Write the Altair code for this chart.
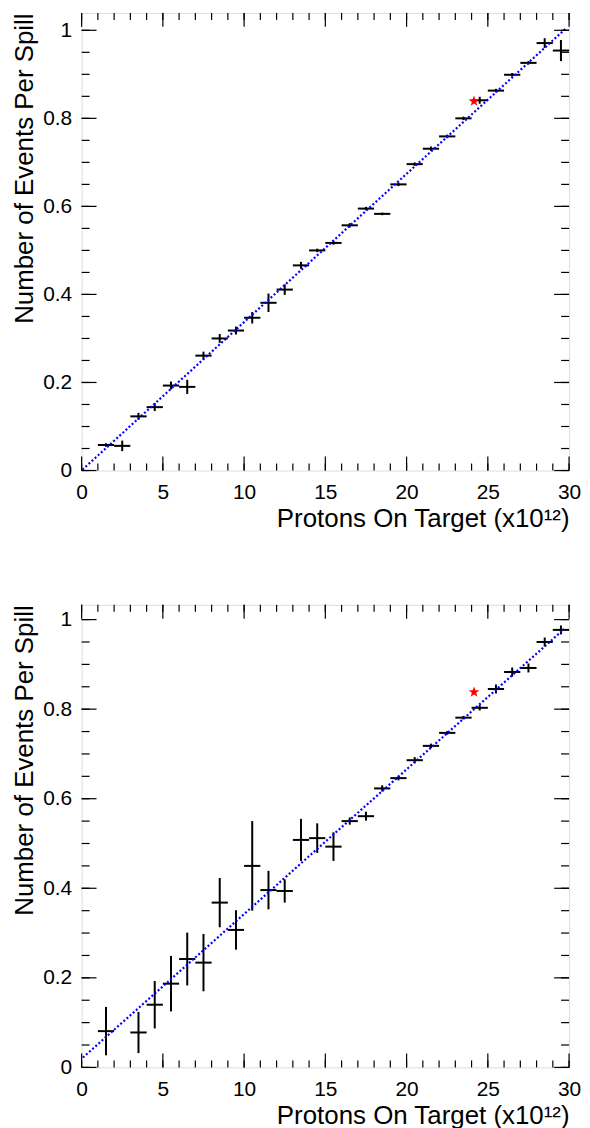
import altair as alt
import pandas as pd

FONT = "Liberation Sans"

# ---------------- data ----------------
# top panel
X_TOP = [1.5, 2.5, 3.5, 4.5, 5.5, 6.5, 7.5, 8.5, 9.5, 10.5, 11.5, 12.5, 13.5, 14.5,
         15.5, 16.5, 17.5, 18.5, 19.5, 20.5, 21.5, 22.5, 23.5, 24.5, 25.5, 26.5,
         27.5, 28.5, 29.5]
Y_TOP = [0.058, 0.056, 0.123, 0.144, 0.193, 0.190, 0.261, 0.300, 0.318, 0.347,
         0.381, 0.411, 0.466, 0.500, 0.517, 0.557, 0.595, 0.583, 0.650, 0.696,
         0.731, 0.759, 0.800, 0.841, 0.863, 0.899, 0.926, 0.971, 0.954]
E_TOP = [0.004, 0.012, 0.008, 0.009, 0.009, 0.016, 0.009, 0.010, 0.009, 0.013,
         0.021, 0.012, 0.008, 0.004, 0.004, 0.005, 0.004, 0.003, 0.004, 0.004,
         0.005, 0.004, 0.004, 0.008, 0.004, 0.004, 0.004, 0.011, 0.024]
FIT_X_TOP = [0.05, 29.8]
FIT_Y_TOP = [0.002, 1.004]
STAR_X_TOP = [24.15]
STAR_Y_TOP = [0.839]

# bottom panel
X_BOT = [1.5, 3.5, 4.5, 5.5, 6.5, 7.5, 8.5, 9.5, 10.5, 11.5, 12.5, 13.5, 14.5,
         15.5, 16.5, 17.5, 18.5, 19.5, 20.5, 21.5, 22.5, 23.5, 24.5, 25.5, 26.5,
         27.5, 28.5, 29.5]
Y_BOT = [0.081, 0.078, 0.140, 0.187, 0.242, 0.234, 0.368, 0.307, 0.450, 0.396,
         0.394, 0.508, 0.512, 0.493, 0.550, 0.561, 0.623, 0.646, 0.686, 0.718,
         0.747, 0.781, 0.803, 0.845, 0.883, 0.892, 0.950, 0.977]
E_BOT = [0.054, 0.046, 0.053, 0.062, 0.059, 0.064, 0.055, 0.044, 0.100, 0.043,
         0.026, 0.047, 0.033, 0.032, 0.008, 0.010, 0.007, 0.005, 0.007, 0.005,
         0.004, 0.004, 0.006, 0.010, 0.010, 0.010, 0.010, 0.010]
FIT_X_BOT = [0.08, 29.7]
FIT_Y_BOT = [0.022, 0.979]
STAR_X_BOT = [24.15]
STAR_Y_BOT = [0.838]

# axis ticks
X_MAJOR = [0, 5, 10, 15, 20, 25, 30]
X_MINOR = [0, 1, 2, 3, 4, 5, 6, 7, 8, 9, 10, 11, 12, 13, 14, 15, 16, 17, 18, 19,
           20, 21, 22, 23, 24, 25, 26, 27, 28, 29, 30]
Y_MAJOR = [0, 0.2, 0.4, 0.6, 0.8, 1.0]
Y_MINOR = [0, 0.05, 0.1, 0.15, 0.2, 0.25, 0.3, 0.35, 0.4, 0.45, 0.5, 0.55, 0.6,
           0.65, 0.7, 0.75, 0.8, 0.85, 0.9, 0.95, 1.0]

X_TITLE = "Protons On Target (x10\u00b9\u00b2)"
Y_TITLE = "Number of Events Per Spill"

STAR = ("M0,-1L0.235,-0.324L0.951,-0.309L0.38,0.124L0.588,0.809L0,0.4"
        "L-0.588,0.809L-0.38,0.124L-0.951,-0.309L-0.235,-0.324Z")

W = 490


def panel(xv, yv, ev, fx, fy, sx, sy, H, ymax):
    pts = pd.DataFrame({"x": xv, "y": yv, "e": ev})
    xs = alt.Scale(domain=[0, 30], nice=False, zero=False)
    ys = alt.Scale(domain=[0, ymax], nice=False, zero=False)

    xaxis = alt.Axis(values=X_MAJOR, ticks=False, domain=False, grid=False,
                     labelFontSize=21, labelPadding=11, labelFlush=False,
                     labelOverlap=False, title=X_TITLE, titleFontSize=26,
                     titleFontWeight="normal", titleAlign="right",
                     titleAnchor="end", titleX=W, titleY=56,
                     titleBaseline="alphabetic")
    yaxis = alt.Axis(values=Y_MAJOR, format="~g", ticks=False, domain=False,
                     grid=False, labelFontSize=21, labelPadding=10,
                     labelOverlap=False, title=Y_TITLE, titleFontSize=26,
                     titleFontWeight="normal", titleAngle=270,
                     titleAlign="right", titleAnchor="end", titleX=-49,
                     titleY=0, titleBaseline="alphabetic")

    def X(f):
        return alt.X(f, scale=xs, axis=xaxis)

    def Y(f):
        return alt.Y(f, scale=ys, axis=yaxis)

    hbar = alt.Chart(pts).transform_calculate(
        xl="datum.x - 0.5", xh="datum.x + 0.5"
    ).mark_rule(color="black", strokeWidth=2).encode(
        x=X("xl:Q"), x2="xh:Q", y=Y("y:Q"),
    )
    vbar = alt.Chart(pts).transform_calculate(
        yl="datum.y - datum.e", yh="datum.y + datum.e"
    ).mark_rule(color="black", strokeWidth=2).encode(
        x=X("x:Q"), y=Y("yl:Q"), y2="yh:Q",
    )
    fit = alt.Chart(pd.DataFrame({"x": fx, "y": fy})).mark_line(
        color="#0000ff", strokeWidth=2.2, strokeDash=[2, 2.2]
    ).encode(x=X("x:Q"), y=Y("y:Q"))
    star = alt.Chart(pd.DataFrame({"x": sx, "y": sy})).mark_point(
        shape=STAR, size=130, filled=True, color="#ff0000", opacity=1
    ).encode(x=X("x:Q"), y=Y("y:Q"))

    xmaj = pd.DataFrame({"t": X_MAJOR})
    xmin = pd.DataFrame({"t": X_MINOR})
    ymaj = pd.DataFrame({"t": Y_MAJOR})
    ymin = pd.DataFrame({"t": Y_MINOR})

    def xt(df, y1, y2):
        return alt.Chart(df).mark_rule(color="black", strokeWidth=1.2).encode(
            x=X("t:Q"), y=alt.value(y1), y2=alt.value(y2))

    def yt(df, x1, x2):
        return alt.Chart(df).mark_rule(color="black", strokeWidth=1.2).encode(
            y=Y("t:Q"), x=alt.value(x1), x2=alt.value(x2))

    ticks = [
        xt(xmaj, H, H - 14), xt(xmin, H, H - 7),
        xt(xmaj, 0, 14), xt(xmin, 0, 7),
        yt(ymaj, 0, 15), yt(ymin, 0, 8),
        yt(ymaj, W, W - 15), yt(ymin, W, W - 8),
    ]

    return alt.layer(hbar, vbar, fit, star, *ticks).properties(width=W, height=H)


top = panel(X_TOP, Y_TOP, E_TOP, FIT_X_TOP, FIT_Y_TOP, STAR_X_TOP, STAR_Y_TOP,
            460, 1.0395)
bot = panel(X_BOT, Y_BOT, E_BOT, FIT_X_BOT, FIT_Y_BOT, STAR_X_BOT, STAR_Y_BOT,
            465, 1.033)

chart = alt.vconcat(top, bot, spacing=71).properties(
    padding={"left": 3, "top": 0, "right": 0, "bottom": 0}
).configure_view(
    stroke="black", strokeWidth=2
).configure_axis(
    labelFont=FONT, titleFont=FONT, labelColor="black", titleColor="black"
).configure(background="white")

chart.save("out.html", embed_options={"renderer": "svg", "actions": False})
